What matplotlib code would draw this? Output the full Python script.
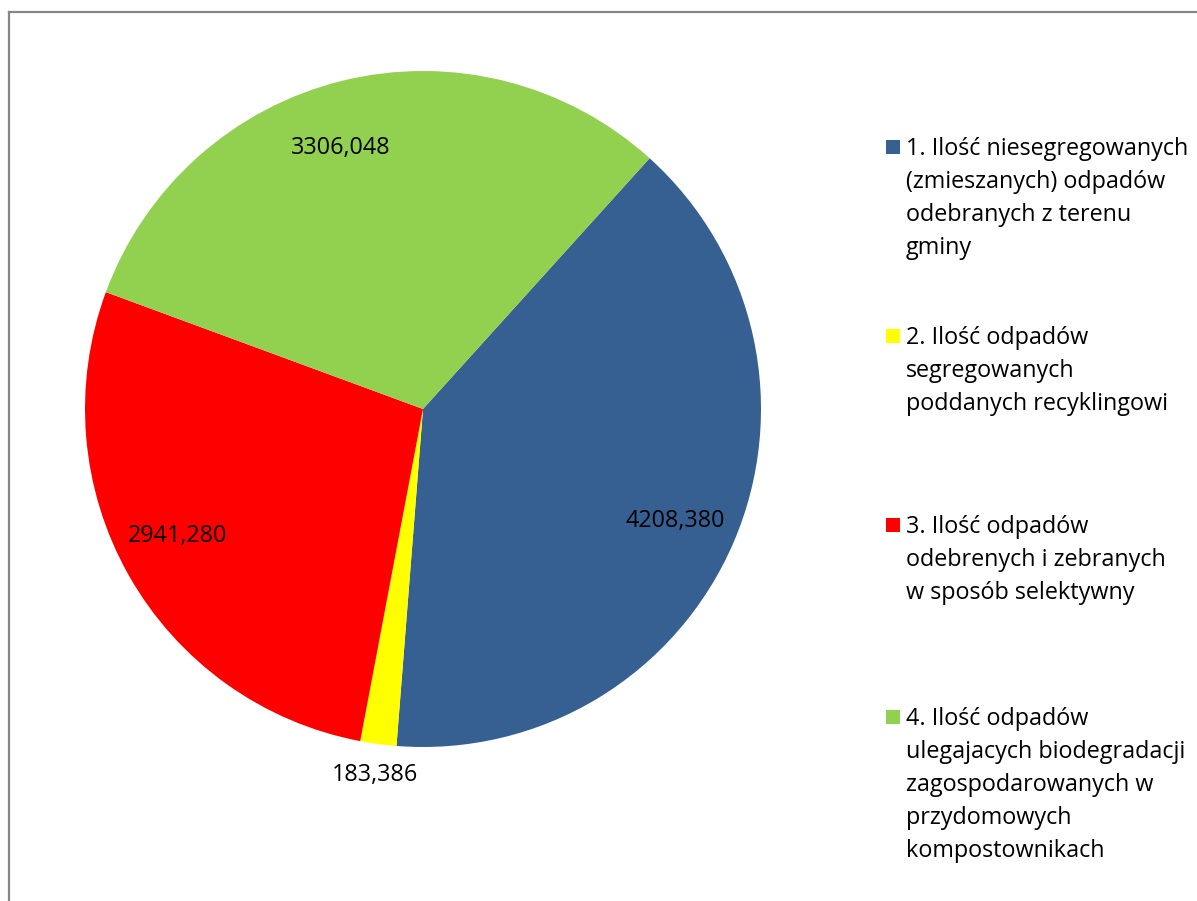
import matplotlib
matplotlib.use("Agg")
import matplotlib.pyplot as plt
from matplotlib.patches import Rectangle
from matplotlib.lines import Line2D
import numpy as np

categories = [
    "1. Ilość niesegregowanych\n(zmieszanych) odpadów\nodebranych z terenu\ngminy",
    "2. Ilość odpadów\nsegregowanych\npoddanych recyklingowi",
    "3. Ilość odpadów\nodebrenych i zebranych\nw sposób selektywny",
    "4. Ilość odpadów\nulegajacych biodegradacji\nzagospodarowanych w\nprzydomowych\nkompostownikach",
]
values = [4208.380, 183.386, 2941.280, 3306.048]
value_labels = ["4208,380", "183,386", "2941,280", "3306,048"]
colors = ["#376092", "#FFFF00", "#FF0000", "#92D050"]

FONT = "Open Sans"
FS = 16.8

W, H = 1197, 901
fig = plt.figure(figsize=(W / 100, H / 100), dpi=100)

# border
fig.add_artist(Line2D([9 / W, 9 / W], [0, 1 - 12 / H], color="#868686", lw=1.6))
fig.add_artist(Line2D([9 / W, 1], [1 - 12 / H, 1 - 12 / H], color="#868686", lw=1.6))

cx, cy, r = 423, 409, 338
ax = fig.add_axes([(cx - r) / W, (H - cy - r) / H, 2 * r / W, 2 * r / H])
wedges, _ = ax.pie(values, colors=colors, startangle=47.9, counterclock=False,
                   radius=1.0, center=(0, 0))
ax.set_xlim(-1, 1)
ax.set_ylim(-1, 1)
ax.set_aspect("auto")
ax.axis("off")

dists = [0.814, 1.083, 0.815, 0.818]
ang_off = [0.0, 0.0, -2.75, 3.5]
for w, lab, d, off in zip(wedges, value_labels, dists, ang_off):
    ang = np.deg2rad((w.theta1 + w.theta2) / 2 + off)
    ax.annotate(lab, (d * np.cos(ang), d * np.sin(ang)), xytext=(0, -3),
                textcoords="offset pixels", ha="center", va="center",
                fontsize=FS, family=FONT, color="black",
                annotation_clip=False, clip_on=False)

# legend
first_line_y = [147, 336, 525, 717]
for cat, col, y in zip(categories, colors, first_line_y):
    fig.add_artist(Rectangle(((886) / W, 1 - (y + 7) / H), 14 / W, 14 / H,
                             facecolor=col, edgecolor="none", transform=fig.transFigure))
    fig.text(906 / W, 1 - (y - 10) / H, cat, ha="left", va="top", fontsize=FS,
             family=FONT, linespacing=1.5, color="black")

fig.savefig("out.png", dpi=100)
